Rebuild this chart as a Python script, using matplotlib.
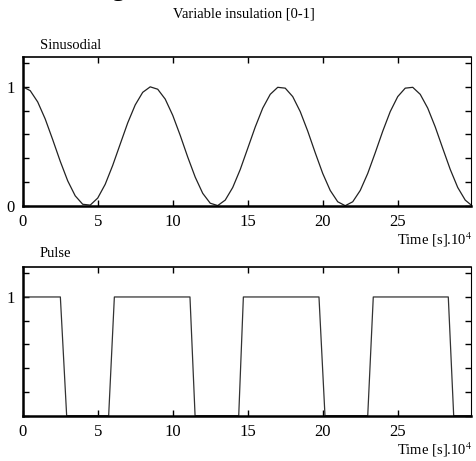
import matplotlib
matplotlib.use("Agg")
import matplotlib.pyplot as plt
import numpy as np

plt.rcParams["font.family"] = ["Liberation Serif", "DejaVu Serif"]
plt.rcParams["mathtext.fontset"] = "stix"

# sinusoidal insulation, every 0.5 (x 10^4 s)
sin_t = [i * 0.5 for i in range(60)] + [29.9]
sin_y = [1.000, 0.967, 0.872, 0.729, 0.555, 0.374, 0.209, 0.083, 0.012, 0.005,
         0.064, 0.180, 0.339, 0.518, 0.696, 0.847, 0.953, 0.999, 0.979, 0.896,
         0.760, 0.591, 0.409, 0.240, 0.104, 0.021, 0.001, 0.047, 0.153, 0.304,
         0.482, 0.661, 0.820, 0.936, 0.995, 0.988, 0.917, 0.791, 0.627, 0.445,
         0.271, 0.128, 0.033, 0.000, 0.033, 0.128, 0.271, 0.445, 0.626, 0.791,
         0.917, 0.988, 0.995, 0.936, 0.820, 0.662, 0.482, 0.305, 0.153, 0.047,
         0.005]

# pulse insulation corners
pulse_t = [0, 2.51, 2.93, 5.73, 6.11, 11.15, 11.49, 14.40, 14.71, 19.75, 20.15,
           23.00, 23.37, 28.37, 28.73, 29.9]
pulse_y = [1, 1, 0, 0, 1, 1, 0, 0, 1, 1, 0, 0, 1, 1, 0, 0]

xticks = [0, 5, 10, 15, 20, 25]
yticks = [0, 0.2, 0.4, 0.6, 0.8, 1.0, 1.2]


def style_axes(ax, ylabels):
	ax.set_xlim(0, 29.9)
	ax.set_ylim(0, 1.25)
	ax.set_xticks(xticks)
	ax.set_yticks(yticks, ylabels)
	ax.tick_params(direction="in", length=4, width=1, top=True, right=True,
	               labelsize=12, pad=6)
	ax.spines["left"].set_linewidth(1.8)
	ax.spines["bottom"].set_linewidth(1.8)
	ax.spines["top"].set_linewidth(1.2)
	ax.spines["right"].set_linewidth(0.8)


fig = plt.figure(figsize=(4.76, 4.61), dpi=100)

ax1 = fig.add_axes([0.0477, 0.5538, 0.9423, 0.3226])
ax1.plot(sin_t, sin_y, color="#222222", lw=0.9)
style_axes(ax1, ["0", "", "", "", "", "1", ""])

ax2 = fig.add_axes([0.0477, 0.0983, 0.9423, 0.3219])
ax2.plot(pulse_t, pulse_y, color="#333333", lw=0.9)
style_axes(ax2, ["", "", "", "", "", "1", ""])

fig.text(0.513, 0.970, "Variable insulation [0-1]", ha="center", va="center", fontsize=10.5)
fig.text(0.085, 0.902, "Sinusodial", ha="left", va="center", fontsize=10.5)
fig.text(0.084, 0.451, "Pulse", ha="left", va="center", fontsize=10.5)
fig.text(0.993, 0.479, "Time [s].10$^4$", ha="right", va="center", fontsize=10.5)
fig.text(0.993, 0.024, "Time [s].10$^4$", ha="right", va="center", fontsize=10.5)
# cut-off caption fragment at the very top (only its tail shows)
fig.text(0.236, 1.008, "g", ha="left", va="baseline", fontsize=19)

fig.savefig("out.png", dpi=100)
